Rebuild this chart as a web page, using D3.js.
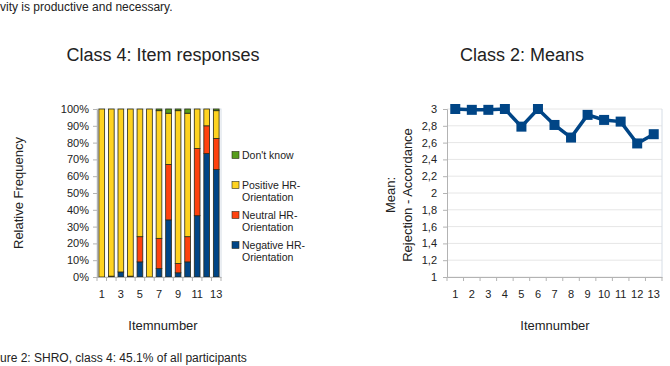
<!DOCTYPE html>
<html>
<head>
<meta charset="utf-8">
<script src="https://cdn.jsdelivr.net/npm/d3@7"></script>
<style>
  body { margin: 0; background: #fff; }
  svg { display: block; font-family: "Liberation Sans", Arial, sans-serif; }
</style>
</head>
<body>
<svg id="chart" width="670" height="366"></svg>
<script>
// item numbers shared by both charts
const items = [1, 2, 3, 4, 5, 6, 7, 8, 9, 10, 11, 12, 13]

// class 4: relative frequency per item (%)
const negative = [0, 0.5, 3, 0.5, 9, 0, 5, 34, 2.5, 9, 36.5, 73.5, 64]
const neutral = [0, 0, 0, 0, 15, 0, 18, 33, 5.5, 15, 40, 16.5, 18.5]
const positive = [100, 99.5, 97, 99.5, 76, 100, 76, 30.5, 91, 73.5, 23.5, 10, 16.5]
const dontKnow = [0, 0, 0, 0, 0, 0, 1, 2.5, 1, 2.5, 0, 0, 1]
const seriesNames = ['Negative HR-Orientation', 'Neutral HR-Orientation', 'Positive HR-Orientation', "Don't know"]
const seriesColors = ['#004586', '#ff420e', '#ffd320', '#579d1c']
const pctTicks = [0, 10, 20, 30, 40, 50, 60, 70, 80, 90, 100]
const itemTickLabels = [1, 3, 5, 7, 9, 11, 13]

// class 2: means per item
const means = [3.0, 2.99, 2.99, 3.0, 2.79, 3.0, 2.81, 2.66, 2.93, 2.87, 2.85, 2.59, 2.70]
const meanTicks = [1, 1.2, 1.4, 1.6, 1.8, 2, 2.2, 2.4, 2.6, 2.8, 3]

const svg = d3.select('#chart')
const txt = '#222'
const axisCol = '#b3b3b3'
const de = d3.formatLocale({ decimal: ',', thousands: '.', grouping: [3], currency: ['', '€'] })

// page text around the figure
svg.append('text').attr('x', 0).attr('y', 11).attr('font-size', 12).attr('fill', txt)
  .text('vity is productive and necessary.')
svg.append('text').attr('x', 0).attr('y', 362).attr('font-size', 12).attr('fill', txt)
  .text('ure 2: SHRO, class 4: 45.1% of all participants')

// ---------- left: stacked bars ----------
const L = { left: 97, right: 221, top: 109, bottom: 277 }
const table = items.map((it, i) => ({ item: it, neg: negative[i], neu: neutral[i], pos: positive[i], dk: dontKnow[i] }))
const stack = d3.stack().keys(['neg', 'neu', 'pos', 'dk'])(table)

const x1 = d3.scaleBand().domain(items).range([L.left, L.right]).paddingInner(0.4).paddingOuter(0.2)
const xb1 = d3.scaleBand().domain(items).range([L.left, L.right])
const y1 = d3.scaleLinear().domain([0, 100]).range([L.bottom, L.top])

const gL = svg.append('g')
gL.append('rect').attr('x', L.left).attr('y', L.top).attr('width', L.right - L.left).attr('height', L.bottom - L.top)
  .attr('fill', 'none').attr('stroke', '#d6dde6')

gL.selectAll('g.layer').data(stack).enter().append('g')
  .attr('fill', (d, i) => seriesColors[i])
  .selectAll('rect').data(d => d).enter().append('rect')
  .attr('x', d => x1(d.data.item))
  .attr('width', x1.bandwidth())
  .attr('y', d => y1(d[1]))
  .attr('height', d => y1(d[0]) - y1(d[1]))
  .attr('stroke', '#2a2a1a').attr('stroke-width', 0.8)

const yAxL = gL.append('g').attr('transform', `translate(${L.left},0)`)
  .call(d3.axisLeft(y1).tickValues(pctTicks).tickFormat(d => d + '%').tickSize(4).tickPadding(4))
yAxL.select('.domain').attr('stroke', axisCol)
yAxL.selectAll('line').attr('stroke', axisCol)
yAxL.selectAll('text').attr('font-size', 11).attr('fill', txt).attr('font-family', null)

const xAxL = gL.append('g').attr('transform', `translate(0,${L.bottom})`)
  .call(d3.axisBottom(xb1).tickValues(itemTickLabels).tickSize(0).tickPadding(13))
xAxL.select('.domain').attr('stroke', axisCol)
xAxL.selectAll('text').attr('font-size', 11).attr('fill', txt).attr('font-family', null)
gL.selectAll('line.xt').data(d3.range(items.length + 1)).enter().append('line').attr('class', 'xt')
  .attr('x1', i => L.left + i * xb1.step()).attr('x2', i => L.left + i * xb1.step())
  .attr('y1', L.bottom).attr('y2', L.bottom + 4).attr('stroke', axisCol)

gL.append('text').attr('transform', `translate(23,${(L.top + L.bottom) / 2}) rotate(-90)`)
  .attr('text-anchor', 'middle').attr('font-size', 13).attr('fill', txt).text('Relative Frequency')
gL.append('text').attr('x', 163).attr('y', 330).attr('text-anchor', 'middle')
  .attr('font-size', 13).attr('fill', txt).text('Itemnumber')
gL.append('text').attr('x', 163).attr('y', 61).attr('text-anchor', 'middle')
  .attr('font-size', 18).attr('fill', txt).text('Class 4: Item responses')

// legend, top-down: Don't know, Positive, Neutral, Negative
const legendY = [155, 185, 215, 245]
const legendOrder = [3, 2, 1, 0]
legendOrder.forEach((s, k) => {
  const g = gL.append('g').attr('transform', `translate(232,${legendY[k]})`)
  g.append('rect').attr('x', 0).attr('y', -3.5).attr('width', 7).attr('height', 7)
    .attr('fill', seriesColors[s]).attr('stroke', '#2a2a1a').attr('stroke-width', 0.6)
  const parts = seriesNames[s] === "Don't know" ? [seriesNames[s]] : [seriesNames[s].replace('Orientation', ''), 'Orientation']
  const t = g.append('text').attr('x', 10).attr('y', 3.5).attr('font-size', 10.5).attr('fill', txt)
  parts.forEach((p, j) => t.append('tspan').attr('x', 10).attr('dy', j ? 12.5 : 0).text(p))
})

// ---------- right: means line ----------
const R = { left: 447, right: 662, top: 109, bottom: 277 }
const x2 = d3.scaleBand().domain(items).range([R.left, R.right])
const y2 = d3.scaleLinear().domain([1, 3]).range([R.bottom, R.top])
const gR = svg.append('g')

gR.selectAll('line.grid').data(meanTicks).enter().append('line').attr('class', 'grid')
  .attr('x1', R.left).attr('x2', R.right).attr('y1', d => y2(d)).attr('y2', d => y2(d))
  .attr('stroke', '#e6e6e6')
gR.append('line').attr('x1', R.right).attr('x2', R.right).attr('y1', R.top).attr('y2', R.bottom).attr('stroke', '#d6dde6')

const yAxR = gR.append('g').attr('transform', `translate(${R.left},0)`)
  .call(d3.axisLeft(y2).tickValues(meanTicks).tickFormat(de.format('~g')).tickSize(4).tickPadding(6))
yAxR.select('.domain').attr('stroke', axisCol)
yAxR.selectAll('line').attr('stroke', axisCol)
yAxR.selectAll('text').attr('font-size', 11).attr('fill', txt).attr('font-family', null)

const xAxR = gR.append('g').attr('transform', `translate(0,${R.bottom})`)
  .call(d3.axisBottom(x2).tickSize(0).tickPadding(13))
xAxR.select('.domain').attr('stroke', axisCol)
xAxR.selectAll('text').attr('font-size', 11).attr('fill', txt).attr('font-family', null)
gR.selectAll('line.xt').data(d3.range(items.length + 1)).enter().append('line').attr('class', 'xt')
  .attr('x1', i => R.left + i * x2.step()).attr('x2', i => R.left + i * x2.step())
  .attr('y1', R.bottom).attr('y2', R.bottom + 4).attr('stroke', axisCol)

const line = d3.line().x((d, i) => x2(items[i]) + x2.bandwidth() / 2).y(d => y2(d))
gR.append('path').datum(means).attr('d', line).attr('fill', 'none')
  .attr('stroke', '#004586').attr('stroke-width', 3.5).attr('stroke-linejoin', 'miter')
gR.selectAll('rect.pt').data(means).enter().append('rect').attr('class', 'pt')
  .attr('x', (d, i) => x2(items[i]) + x2.bandwidth() / 2 - 5)
  .attr('y', d => y2(d) - 5).attr('width', 10).attr('height', 10).attr('fill', '#004586')

gR.append('text').attr('transform', `translate(395,${(R.top + R.bottom) / 2 + 2}) rotate(-90)`)
  .attr('text-anchor', 'middle').attr('font-size', 13).attr('fill', txt).text('Mean:')
gR.append('text').attr('transform', `translate(412,${(R.top + R.bottom) / 2 + 2}) rotate(-90)`)
  .attr('text-anchor', 'middle').attr('font-size', 13).attr('fill', txt).text('Rejection - Accordance')
gR.append('text').attr('x', 555).attr('y', 330).attr('text-anchor', 'middle')
  .attr('font-size', 13).attr('fill', txt).text('Itemnumber')
gR.append('text').attr('x', 522).attr('y', 61).attr('text-anchor', 'middle')
  .attr('font-size', 18).attr('fill', txt).text('Class 2: Means')
</script>
</body>
</html>
